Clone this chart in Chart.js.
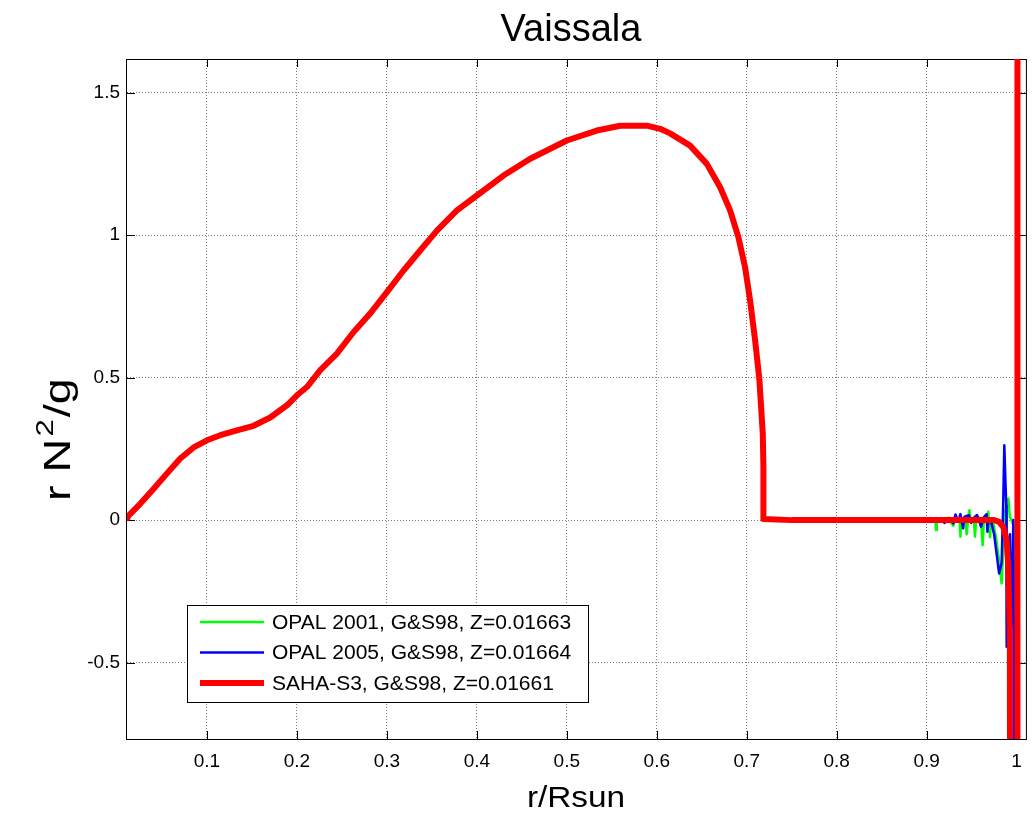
<!DOCTYPE html>
<html>
<head>
<meta charset="utf-8">
<script src="https://cdn.jsdelivr.net/npm/chart.js@4.4.1/dist/chart.umd.min.js"></script>
<style>
  html, body { margin: 0; padding: 0; background: #fff; }
  #wrap { width: 1033px; height: 816px; position: relative; }
</style>
</head>
<body>
<div id="wrap"><canvas id="grafico"></canvas></div>
<script>
// perfil comum das tres curvas (r/Rsun e r N^2/g)
const rCore = [0.0111, 0.0118, 0.026, 0.041, 0.0556, 0.0703, 0.0851, 0.1, 0.1148, 0.1333, 0.1518, 0.1703, 0.1889, 0.2, 0.2111, 0.2259, 0.2444, 0.263, 0.2811, 0.3, 0.3185, 0.337, 0.3556, 0.3778, 0.4, 0.4296, 0.4593, 0.5, 0.5333, 0.5593, 0.5889, 0.6037, 0.6148, 0.637, 0.6556, 0.6704, 0.6815, 0.6907, 0.6981, 0.7037, 0.7093, 0.7141, 0.7178, 0.7185, 0.7185, 0.75, 0.8, 0.85, 0.905];
const n2Core = [0.008, 0.012, 0.058, 0.111, 0.164, 0.216, 0.255, 0.28, 0.298, 0.315, 0.331, 0.36, 0.403, 0.438, 0.467, 0.526, 0.584, 0.66, 0.724, 0.8, 0.876, 0.946, 1.016, 1.087, 1.139, 1.209, 1.268, 1.332, 1.367, 1.384, 1.384, 1.373, 1.357, 1.314, 1.25, 1.168, 1.087, 0.993, 0.888, 0.771, 0.631, 0.491, 0.304, 0.187, 0.004, 0, 0, 0, 0];

// parte externa de cada modelo
const rOpal01 = [0.9096, 0.9104, 0.9112, 0.925, 0.9296, 0.931, 0.9365, 0.9375, 0.9385, 0.943, 0.9444, 0.9462, 0.9475, 0.949, 0.9525, 0.9537, 0.955, 0.958, 0.961, 0.9622, 0.9635, 0.9675, 0.9685, 0.9695, 0.9704, 0.9715, 0.974, 0.977, 0.98, 0.9833, 0.9848, 0.9862, 0.9885, 0.9907, 0.9925, 0.9945, 0.9965, 1.0, 1.0009];
const n2Opal01 = [0, -0.035, 0, 0, -0.02, 0.005, 0, -0.058, 0, 0.005, -0.05, 0.01, 0.035, 0, 0, -0.058, 0.005, 0.01, -0.03, -0.088, 0, 0, 0.03, -0.02, -0.06, 0, -0.01, -0.06, -0.13, -0.222, -0.12, 0.01, 0.05, 0.076, 0.01, 0, -0.02, -3, 3];

const rOpal05 = [0.915, 0.92, 0.925, 0.9296, 0.932, 0.935, 0.9375, 0.9405, 0.942, 0.947, 0.9495, 0.953, 0.956, 0.9585, 0.9605, 0.963, 0.9666, 0.9675, 0.969, 0.972, 0.975, 0.9778, 0.9805, 0.9833, 0.985, 0.9863, 0.9875, 0.9885, 0.9889, 0.9905, 0.9925, 0.9944, 0.9963, 1.0, 1.0009];
const n2Opal05 = [0.005, -0.01, 0.008, -0.012, 0.02, -0.005, 0.021, -0.029, 0.012, 0.017, -0.01, 0.01, 0.018, -0.005, -0.023, 0.008, 0.021, -0.041, 0.005, -0.01, -0.05, -0.12, -0.187, -0.15, 0.05, 0.263, 0.14, 0.05, -0.444, -0.2, -0.05, -0.374, 0, -3, 3];

const rSaha = [0.95, 0.975, 0.98, 0.985, 0.9889, 0.9907, 0.9925, 0.9931, 1.0009, 1.0009];
const n2Saha = [0, 0, -0.005, -0.023, -0.07, -0.165, -0.4, -3, -3, 3];

const serieNomes = ["OPAL 2001, G&S98, Z=0.01663", "OPAL 2005, G&S98, Z=0.01664", "SAHA-S3, G&S98, Z=0.01661"];
const serieCores = ["#00ff00", "#0000ff", "#ff0000"];
const xTicks = [0.1, 0.2, 0.3, 0.4, 0.5, 0.6, 0.7, 0.8, 0.9, 1];
const yTicks = [-0.5, 0, 0.5, 1, 1.5];

const FONTE = '"Liberation Sans", Arial, Helvetica, sans-serif';

function pontos(xs, ys) {
  return xs.map((x, i) => ({ x: x, y: ys[i] }));
}

// texto um pouco mais largo, como a fonte do MATLAB
function textoLargo(ctx, txt, x, y, sx) {
  ctx.save();
  ctx.translate(x, y);
  ctx.scale(sx, 1);
  ctx.fillText(txt, 0, 0);
  ctx.restore();
  return ctx.measureText(txt).width * sx;
}

// caixa, marcas internas, legenda e textos no estilo MATLAB
const estiloMatlab = {
  id: "estiloMatlab",
  beforeDatasetsDraw(chart) {
    const { ctx, chartArea: a, scales: { x, y } } = chart;
    ctx.save();
    ctx.strokeStyle = "#000";
    ctx.lineWidth = 1;
    ctx.beginPath();
    x.ticks.forEach(t => {
      const px = Math.round(x.getPixelForValue(t.value)) + 0.5;
      ctx.moveTo(px, a.bottom); ctx.lineTo(px, a.bottom - 8);
      ctx.moveTo(px, a.top); ctx.lineTo(px, a.top + 8);
    });
    y.ticks.forEach(t => {
      const py = Math.round(y.getPixelForValue(t.value)) + 0.5;
      ctx.moveTo(a.left, py); ctx.lineTo(a.left + 8, py);
      ctx.moveTo(a.right, py); ctx.lineTo(a.right - 8, py);
    });
    ctx.stroke();
    ctx.strokeRect(a.left - 0.5, a.top + 0.5, a.right - a.left, a.bottom - a.top);
    ctx.restore();
  },
  afterDatasetsDraw(chart) {
    const { ctx } = chart;
    const bx = 187, by = 605, bw = 401, bh = 97;
    ctx.save();
    ctx.fillStyle = "#fff";
    ctx.fillRect(bx, by, bw, bh);
    ctx.strokeStyle = "#000";
    ctx.lineWidth = 1;
    ctx.strokeRect(bx + 0.5, by + 0.5, bw, bh);
    ctx.font = "20px " + FONTE;
    ctx.textBaseline = "middle";
    ctx.fillStyle = "#000";
    chart.data.datasets.forEach((ds, i) => {
      const ly = 622 + i * 30.5;
      ctx.strokeStyle = ds.borderColor;
      ctx.lineWidth = ds.borderWidth;
      ctx.beginPath();
      ctx.moveTo(200, ly); ctx.lineTo(264, ly);
      ctx.stroke();
      textoLargo(ctx, ds.label, 272, ly + 1, 1.05);
    });
    ctx.restore();
  },
  afterDraw(chart) {
    const { ctx } = chart;
    ctx.save();
    ctx.fillStyle = "#000";
    ctx.textAlign = "center";
    ctx.textBaseline = "alphabetic";
    ctx.font = "38px " + FONTE;
    ctx.fillText("Vaissala", 571, 41);
    ctx.font = "29px " + FONTE;
    textoLargo(ctx, "r/Rsun", 576, 807, 1.15);

    // rotulo do eixo y com expoente
    ctx.translate(70, 501);
    ctx.rotate(-Math.PI / 2);
    ctx.textAlign = "left";
    ctx.font = "36px " + FONTE;
    let w = textoLargo(ctx, "r N", 0, 0, 1.3);
    ctx.font = "24px " + FONTE;
    w += 2 + textoLargo(ctx, "2", w + 2, -17, 1.3);
    ctx.font = "36px " + FONTE;
    textoLargo(ctx, "/g", w + 2, 0, 1.3);
    ctx.restore();
  }
};

const fmt = v => String(Number(Number(v).toFixed(2)));

new Chart(document.getElementById("grafico"), {
  type: "line",
  data: {
    datasets: [
      { label: serieNomes[0], data: pontos(rCore.concat(rOpal01), n2Core.concat(n2Opal01)), borderColor: serieCores[0], borderWidth: 2.5, order: 2 },
      { label: serieNomes[1], data: pontos(rCore.concat(rOpal05), n2Core.concat(n2Opal05)), borderColor: serieCores[1], borderWidth: 2.5, order: 1 },
      { label: serieNomes[2], data: pontos(rCore.concat(rSaha), n2Core.concat(n2Saha)), borderColor: serieCores[2], borderWidth: 6, order: 0 }
    ]
  },
  options: {
    responsive: true,
    maintainAspectRatio: false,
    animation: false,
    devicePixelRatio: 1,
    layout: { padding: { left: 0, right: 6, top: 59, bottom: 0 } },
    elements: {
      point: { radius: 0, hoverRadius: 0 },
      line: { tension: 0, fill: false, borderJoinStyle: "round", borderCapStyle: "round" }
    },
    plugins: {
      legend: { display: false },
      title: { display: false },
      tooltip: { enabled: false }
    },
    scales: {
      x: {
        type: "linear",
        min: 0.0111,
        max: 1.0114,
        afterFit: s => { s.height = 77; },
        afterBuildTicks: s => { s.ticks = xTicks.map(v => ({ value: v })); },
        grid: { color: "#7a7a7a", lineWidth: 1, drawTicks: false },
        border: { display: false, dash: [1, 2] },
        ticks: { padding: 11, color: "#000", maxRotation: 0, autoSkip: false, font: { family: FONTE, size: 19 }, callback: fmt }
      },
      y: {
        type: "linear",
        min: -0.768,
        max: 1.618,
        afterFit: s => { s.width = 127; },
        afterBuildTicks: s => { s.ticks = yTicks.map(v => ({ value: v })); },
        grid: { color: "#7a7a7a", lineWidth: 1, drawTicks: false },
        border: { display: false, dash: [1, 2] },
        ticks: { padding: 7, color: "#000", autoSkip: false, font: { family: FONTE, size: 19 }, callback: fmt }
      }
    }
  },
  plugins: [estiloMatlab]
});
</script>
</body>
</html>
